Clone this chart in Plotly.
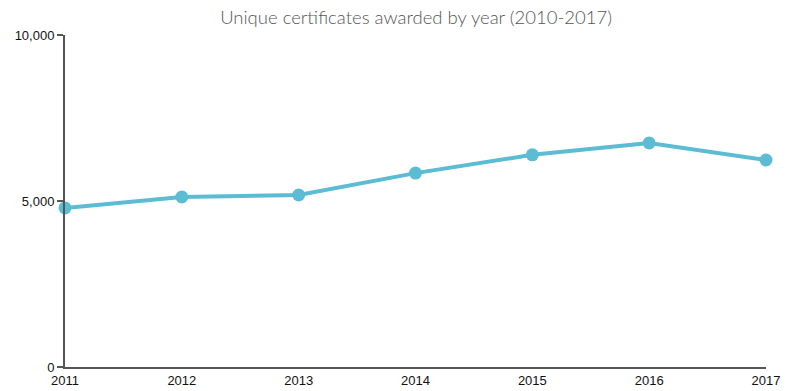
import plotly.graph_objects as go

years = [2011, 2012, 2013, 2014, 2015, 2016, 2017]
certificates = [4790, 5120, 5180, 5840, 6390, 6750, 6235]
y_ticks = [0, 5000, 10000]
y_tick_labels = ["0", "5,000", "10,000"]

fig = go.Figure()
fig.add_trace(go.Scatter(
    x=years, y=certificates, mode="lines+markers",
    line=dict(color="#5bbcd3", width=4),
    marker=dict(color="#5bbcd3", size=13),
    cliponaxis=False, hoverinfo="x+y",
))

fig.update_layout(
    width=788, height=391,
    margin=dict(l=65, r=22, t=35, b=24, autoexpand=False),
    paper_bgcolor="white", plot_bgcolor="white",
    showlegend=False,
    title=dict(text="Unique certificates awarded by year (2010-2017)",
               x=0.528, xanchor="center", y=0.955, yanchor="middle",
               font=dict(family="Lato", size=18.5, color="#555555", weight=300)),
    xaxis=dict(range=[2011, 2017], tickvals=years, ticktext=[str(y) for y in years],
               automargin=False,
               showgrid=False, zeroline=False, showline=True, linecolor="#555555", linewidth=2,
               ticks="", tickfont=dict(family="Arial", size=13, color="#111111")),
    yaxis=dict(range=[0, 10000], tickvals=y_ticks, ticktext=y_tick_labels,
               automargin=False,
               showgrid=False, zeroline=False, showline=True, linecolor="#555555", linewidth=2,
               ticks="outside", ticklen=6, tickcolor="#555555", tickwidth=1.5,
               tickfont=dict(family="Arial", size=13, color="#111111")),
)

fig.write_html("out.html", config={"displayModeBar": False},
               post_script="document.body.style.margin='0';document.body.style.overflow='hidden';")
